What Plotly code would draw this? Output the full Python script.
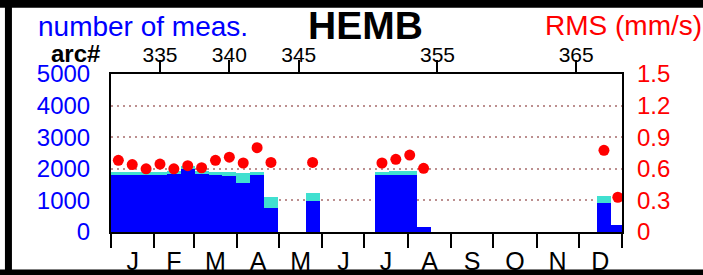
import plotly.graph_objects as go

# ---- data ----
arcs = [332, 333, 334, 335, 336, 337, 338, 339, 340, 341, 342, 343,
        346, 351, 352, 353, 354, 367, 368]
n_total = [1910, 1910, 1910, 1910, 1920, 2090, 1930, 1900, 1890, 1880, 1910, 1100,
           1250, 1910, 1920, 1920, 170, 1130, 230]
n_used = [1810, 1810, 1810, 1810, 1830, 1990, 1850, 1800, 1780, 1560, 1810, 760,
          970, 1790, 1810, 1810, 150, 920, 220]
rms = [0.68, 0.64, 0.60, 0.645, 0.60, 0.63, 0.61, 0.68, 0.71, 0.655, 0.80, 0.66,
       0.66, 0.655, 0.69, 0.73, 0.605, 0.775, 0.33]

arc_ticks = [335, 340, 345, 355, 365]
left_ticks = [0, 1000, 2000, 3000, 4000, 5000]
right_ticks = [0, 0.3, 0.6, 0.9, 1.2, 1.5]
right_labels = ["0", "0.3", "0.6", "0.9", "1.2", "1.5"]
month_alias = {"Jan": "J", "Feb": "F", "Mar": "M", "Apr": "A", "May": "M", "Jun": "J",
               "Jul": "J", "Aug": "A", "Sep": "S", "Oct": "O", "Nov": "N", "Dec": "D"}

FONT = "Liberation Sans, Arial, Helvetica, sans-serif"

fig = go.Figure()
# empty trace so that the bottom (calendar) axis is registered and drawn
fig.add_trace(go.Scatter(x=[], y=[], xaxis="x", yaxis="y", showlegend=False, hoverinfo="skip"))
fig.add_trace(go.Bar(x=arcs, y=n_total, width=1, marker=dict(color="#40e0d0", line=dict(width=0)),
                     xaxis="x2", yaxis="y", showlegend=False))
fig.add_trace(go.Bar(x=arcs, y=n_used, width=1, marker=dict(color="#0000ff", line=dict(width=0)),
                     xaxis="x2", yaxis="y", showlegend=False))
fig.add_trace(go.Scatter(x=arcs, y=rms, mode="markers", marker=dict(color="#ff0000", size=11),
                         xaxis="x2", yaxis="y2", showlegend=False, cliponaxis=False))

W, H = 703, 275
L, R, T, B = 111, 81.3, 73.5, 43
pw = W - L - R
ph = H - T - B

def px(x):
    return (x - L) / pw

def py(y):
    return (H - B - y) / ph

fig.update_layout(
    width=W, height=H, autosize=False,
    margin=dict(l=L, r=R, t=T, b=B, pad=0, autoexpand=False),
    paper_bgcolor="white", plot_bgcolor="white",
    barmode="overlay", bargap=0,
    font=dict(family=FONT, color="black"),
    xaxis=dict(type="date", range=["2023-01-01", "2024-01-01"], autorange=False,
               tick0="2023-01-01", dtick="M1",
               ticklabelmode="period", tickformat="%b", labelalias=month_alias,
               ticks="outside", ticklen=14, tickwidth=2, tickcolor="black",
               showline=True, linewidth=2, linecolor="black", mirror=True,
               showgrid=False, zeroline=False, tickfont=dict(size=25, color="black"),
               ticklabelstandoff=-8, automargin=False),
    xaxis2=dict(overlaying="x", side="top", range=[331.47, 368.3], autorange=False, tickvals=arc_ticks,
                ticks="outside", ticklen=13, tickwidth=2, tickcolor="black",
                showline=False, showgrid=False, zeroline=False,
                tickfont=dict(size=21, color="black"), ticklabelstandoff=-10, automargin=False),
    yaxis=dict(range=[0, 5000], autorange=False, tickvals=left_ticks, ticks="",
               showline=True, linewidth=2, linecolor="black", mirror=True,
               showgrid=True, gridcolor="#bc8f8f", gridwidth=2, griddash="2px,4px",
               zeroline=False, tickfont=dict(size=24, color="#0000ff"), ticklabelstandoff=14,
               automargin=False),
    yaxis2=dict(overlaying="y", side="right", range=[0, 1.5], autorange=False, tickvals=right_ticks,
                ticktext=right_labels, ticks="", showline=False, showgrid=False, zeroline=False,
                tickfont=dict(size=24, color="#ff0000"), ticklabelstandoff=14, automargin=False),
    annotations=[
        dict(text="number of meas.", x=px(36), y=py(26.3), xref="paper", yref="paper",
             xanchor="left", yanchor="middle", showarrow=False,
             font=dict(size=28, color="#0000ff", family=FONT)),
        dict(text="RMS (mm/s)", x=px(543), y=py(25.3), xref="paper", yref="paper",
             xanchor="left", yanchor="middle", showarrow=False,
             font=dict(size=28, color="#ff0000", family=FONT)),
        dict(text="<b>HEMB</b>", x=px(365), y=py(24.8), xref="paper", yref="paper",
             xanchor="center", yanchor="middle", showarrow=False,
             font=dict(size=39, color="black", family=FONT)),
        dict(text="<b>arc#</b>", x=px(75.4), y=py(52.7), xref="paper", yref="paper",
             xanchor="center", yanchor="middle", showarrow=False,
             font=dict(size=24, color="black", family=FONT)),
    ],
    shapes=[
        dict(type="rect", xref="paper", yref="paper", x0=px(-5), x1=px(710), y0=py(7), y1=py(-5),
             fillcolor="black", line=dict(width=0), layer="above"),
        dict(type="rect", xref="paper", yref="paper", x0=px(5), x1=px(12), y0=py(280), y1=py(-5),
             fillcolor="black", line=dict(width=0), layer="above"),
        dict(type="rect", xref="paper", yref="paper", x0=px(-5), x1=px(710), y0=py(280), y1=py(269.5),
             fillcolor="black", line=dict(width=0), layer="above"),
    ],
)

fig.write_html("out.html", config={"displayModeBar": False},
               post_script="document.body.style.margin='0';document.body.style.overflow='hidden';")
